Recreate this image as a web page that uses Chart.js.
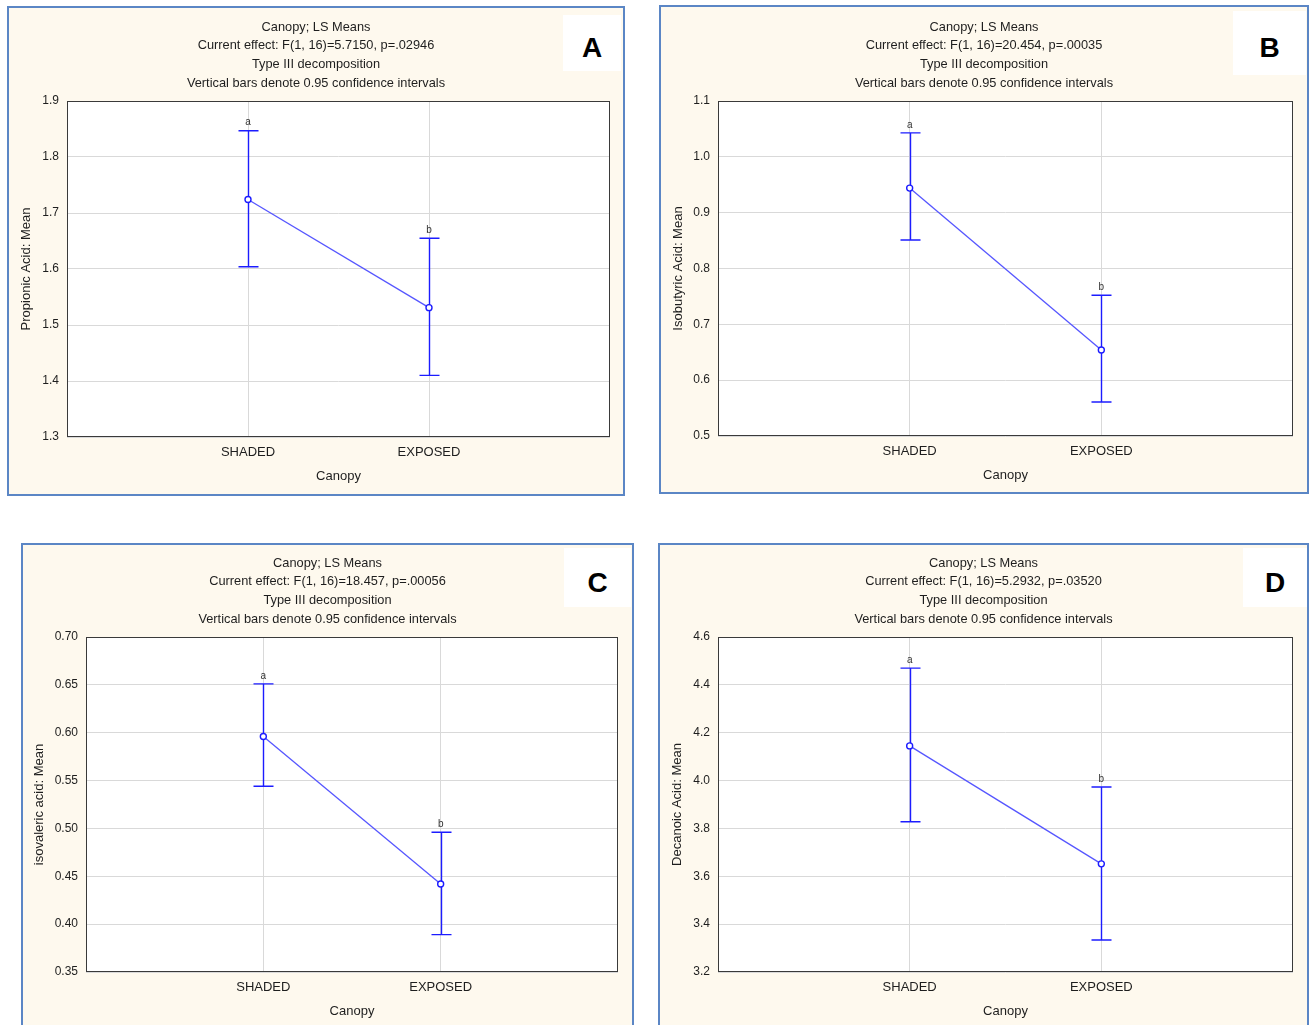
<!DOCTYPE html>
<html>
<head>
<meta charset="utf-8">
<script src="https://cdn.jsdelivr.net/npm/chart.js@4.4.0/dist/chart.umd.min.js"></script>
<style>
  html, body { margin: 0; padding: 0; background: #fff; overflow: hidden; }
  body { width: 1312px; height: 1025px; position: relative; }
  .panel { position: absolute; box-sizing: border-box; border: 2px solid #5b86c5; background: #fef9ee; }
  .panel canvas { position: absolute; left: 0; top: 0; }
  .tag {
    position: absolute; box-sizing: border-box; background: #fff; color: #000;
    font: bold 28px "Liberation Sans", Arial, sans-serif;
    display: flex; align-items: center; justify-content: center; padding-top: 10px;
  }
</style>
</head>
<body>
<script>
const categories = ['SHADED', 'EXPOSED'];
const groupLetters = ['a', 'b'];

// A: propionic acid
const propionicMean = [1.724, 1.531];
const propionicLow = [1.604, 1.410];
const propionicHigh = [1.847, 1.655];
const propionicTicks = ['1.3', '1.4', '1.5', '1.6', '1.7', '1.8', '1.9'];

// B: isobutyric acid
const isobutyricMean = [0.944, 0.654];
const isobutyricLow = [0.851, 0.561];
const isobutyricHigh = [1.043, 0.752];
const isobutyricTicks = ['0.5', '0.6', '0.7', '0.8', '0.9', '1.0', '1.1'];

// C: isovaleric acid
const isovalericMean = [0.596, 0.442];
const isovalericLow = [0.544, 0.389];
const isovalericHigh = [0.651, 0.496];
const isovalericTicks = ['0.35', '0.40', '0.45', '0.50', '0.55', '0.60', '0.65', '0.70'];

// D: decanoic acid
const decanoicMean = [4.145, 3.652];
const decanoicLow = [3.828, 3.334];
const decanoicHigh = [4.470, 3.973];
const decanoicTicks = ['3.2', '3.4', '3.6', '3.8', '4.0', '4.2', '4.4', '4.6'];

const FONT = '"Liberation Sans", Arial, sans-serif';
const TITLE_LH = 18.7;

Chart.defaults.font.family = FONT;
Chart.defaults.color = '#1e1e1e';

// page boxes: [left, top, right, bottom]
const panels = [
  {
    tag: 'A', yTitle: 'Propionic Acid: Mean', effect: 'F(1, 16)=5.7150, p=.02946',
    mean: propionicMean, low: propionicLow, high: propionicHigh, ticks: propionicTicks,
    frame: [7, 6, 625, 496], plot: [67, 101, 610, 437], tagBox: [563, 15, 621, 71],
    titleY: 27, yTitleX: 26
  },
  {
    tag: 'B', yTitle: 'Isobutyric Acid: Mean', effect: 'F(1, 16)=20.454, p=.00035',
    mean: isobutyricMean, low: isobutyricLow, high: isobutyricHigh, ticks: isobutyricTicks,
    frame: [659, 5, 1309, 494], plot: [718, 101, 1293, 436], tagBox: [1233, 11, 1306, 75],
    titleY: 27, yTitleX: 678
  },
  {
    tag: 'C', yTitle: 'isovaleric acid: Mean', effect: 'F(1, 16)=18.457, p=.00056',
    mean: isovalericMean, low: isovalericLow, high: isovalericHigh, ticks: isovalericTicks,
    frame: [21, 543, 634, 1028], plot: [86, 637, 618, 972], tagBox: [564, 548, 631, 607],
    titleY: 563, yTitleX: 39
  },
  {
    tag: 'D', yTitle: 'Decanoic Acid: Mean', effect: 'F(1, 16)=5.2932, p=.03520',
    mean: decanoicMean, low: decanoicLow, high: decanoicHigh, ticks: decanoicTicks,
    frame: [658, 543, 1309, 1028], plot: [718, 637, 1293, 972], tagBox: [1243, 548, 1307, 607],
    titleY: 563, yTitleX: 677
  }
];

function buildPanel(p) {
  const [fl, ft, fr, fb] = p.frame;
  const box = document.createElement('div');
  box.className = 'panel';
  Object.assign(box.style, {
    left: fl + 'px', top: ft + 'px', width: (fr - fl) + 'px', height: (fb - ft) + 'px'
  });
  document.body.appendChild(box);

  const cw = fr - fl - 4, ch = fb - ft - 4;
  const ox = fl + 2, oy = ft + 2;
  const canvas = document.createElement('canvas');
  canvas.width = cw;
  canvas.height = ch;
  canvas.style.width = cw + 'px';
  canvas.style.height = ch + 'px';
  box.appendChild(canvas);

  const [pl, pt, pr, pb] = p.plot;
  const leftW = pl - ox, rightW = ox + cw - pr;
  const topH = pt - oy, bottomH = oy + ch - pb;
  const titleTop = p.titleY - oy - TITLE_LH / 2;
  const titleBottom = topH - titleTop - 4 * TITLE_LH;
  const xTitlePad = bottomH - 39 - 7.8;
  const yTitlePad = p.yTitleX - ox - 7.8;

  const [tl, tt, tr, tb] = p.tagBox;
  const tag = document.createElement('div');
  tag.className = 'tag';
  Object.assign(tag.style, {
    left: tl + 'px', top: tt + 'px', width: (tr - tl) + 'px', height: (tb - tt) + 'px'
  });
  tag.textContent = p.tag;
  document.body.appendChild(tag);

  const yValues = p.ticks.map(Number);

  // white plot area, frame, confidence bars and group letters
  const decorations = {
    id: 'decorations',
    beforeDraw(chart) {
      const { ctx, chartArea: a } = chart;
      ctx.save();
      ctx.fillStyle = '#fff';
      ctx.fillRect(a.left, a.top, a.right - a.left, a.bottom - a.top);
      ctx.restore();
    },
    beforeDatasetsDraw(chart) {
      const { ctx, chartArea: a, scales: { x, y } } = chart;
      ctx.save();
      ctx.strokeStyle = '#3a3a3a';
      ctx.lineWidth = 1;
      ctx.strokeRect(a.left + 0.5, a.top + 0.5, a.right - a.left - 1, a.bottom - a.top - 1);

      ctx.strokeStyle = '#1c1cff';
      ctx.lineWidth = 1.4;
      p.mean.forEach((m, i) => {
        const px = Math.round(x.getPixelForValue(i + 1)) + 0.5;
        const top = y.getPixelForValue(p.high[i]);
        const bot = y.getPixelForValue(p.low[i]);
        ctx.beginPath();
        ctx.moveTo(px, top);
        ctx.lineTo(px, bot);
        ctx.moveTo(px - 10, top);
        ctx.lineTo(px + 10, top);
        ctx.moveTo(px - 10, bot);
        ctx.lineTo(px + 10, bot);
        ctx.stroke();
      });
      ctx.restore();
    },
    afterDatasetsDraw(chart) {
      const { ctx, scales: { x, y } } = chart;
      ctx.save();
      ctx.font = '10px ' + FONT;
      ctx.fillStyle = '#333';
      ctx.textAlign = 'center';
      ctx.textBaseline = 'middle';
      groupLetters.forEach((g, i) => {
        ctx.fillText(g, x.getPixelForValue(i + 1), y.getPixelForValue(p.high[i]) - 8);
      });
      ctx.restore();
    }
  };

  new Chart(canvas, {
    type: 'line',
    data: {
      datasets: [{
        data: p.mean.map((m, i) => ({ x: i + 1, y: m })),
        borderColor: '#5656ff',
        borderWidth: 1.3,
        pointRadius: 3,
        pointBorderColor: '#1c1cff',
        pointBorderWidth: 1.4,
        pointBackgroundColor: '#fff',
        tension: 0
      }]
    },
    options: {
      responsive: false,
      animation: false,
      layout: { padding: 0 },
      plugins: {
        legend: { display: false },
        tooltip: { enabled: false },
        title: {
          display: true,
          text: [
            'Canopy; LS Means',
            'Current effect: ' + p.effect,
            'Type III decomposition',
            'Vertical bars denote 0.95 confidence intervals'
          ],
          color: '#1e1e1e',
          font: { size: 12.8, weight: 'normal', lineHeight: TITLE_LH / 12.8 },
          padding: { top: titleTop, bottom: titleBottom }
        }
      },
      scales: {
        x: {
          type: 'linear',
          min: 0,
          max: 3,
          afterBuildTicks: s => { s.ticks = [{ value: 1 }, { value: 2 }]; },
          afterFit: s => { s.height = bottomH; },
          ticks: {
            padding: 7.6,
            font: { size: 13 },
            color: '#1e1e1e',
            callback: v => categories[v - 1]
          },
          grid: { color: '#d9d9d9', drawTicks: false },
          border: { display: false },
          title: {
            display: true,
            text: 'Canopy',
            font: { size: 13 },
            color: '#1e1e1e',
            padding: { top: xTitlePad, bottom: xTitlePad }
          }
        },
        y: {
          min: yValues[0],
          max: yValues[yValues.length - 1],
          afterBuildTicks: s => { s.ticks = yValues.map(v => ({ value: v })); },
          afterFit: s => { s.width = leftW; },
          ticks: {
            padding: 8,
            font: { size: 12 },
            color: '#1e1e1e',
            callback: (v, i) => p.ticks[i]
          },
          grid: { color: '#d9d9d9', drawTicks: false },
          border: { display: false },
          title: {
            display: true,
            text: p.yTitle,
            font: { size: 13 },
            color: '#1e1e1e',
            padding: { top: yTitlePad, bottom: 0 }
          }
        },
        yr: {
          position: 'right',
          ticks: { display: false },
          grid: { display: false, drawTicks: false },
          border: { display: false },
          afterFit: s => { s.width = rightW; }
        }
      }
    },
    plugins: [decorations]
  });
}

panels.forEach(buildPanel);
</script>
</body>
</html>
